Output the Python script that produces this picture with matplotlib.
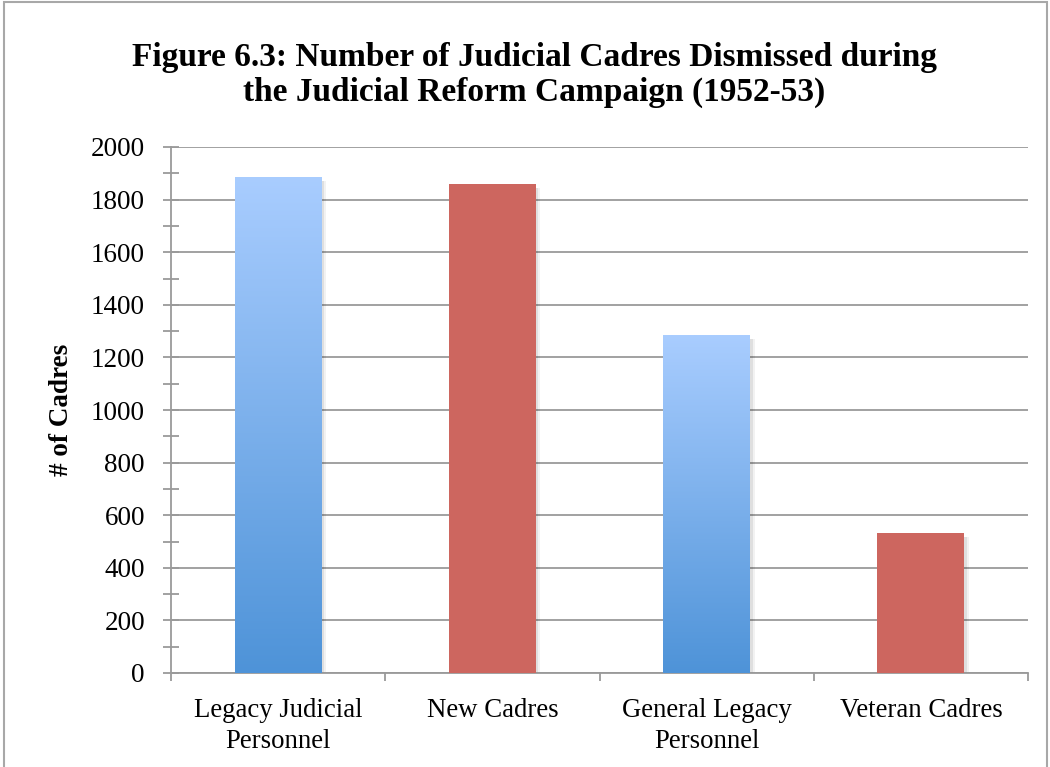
import numpy as np
import matplotlib
matplotlib.use('Agg')
import matplotlib.pyplot as plt
from matplotlib.patches import Rectangle
from matplotlib.colors import LinearSegmentedColormap

categories = ['Legacy Judicial\nPersonnel', 'New Cadres', 'General Legacy\nPersonnel', 'Veteran Cadres']
values = [1886, 1860, 1285, 532]
bar_kinds = ['blue', 'red', 'blue', 'red']

title = 'Figure 6.3: Number of Judicial Cadres Dismissed during\nthe Judicial Reform Campaign (1952-53)'
ylabel = '# of Cadres'

RED = '#cd665f'
blue_cmap = LinearSegmentedColormap.from_list('bluegrad', ['#4e93d8', '#a9cdff'])
GRID = '#9a9a9a'

plt.rcParams['font.family'] = ['Liberation Serif', 'DejaVu Serif']

fig = plt.figure(figsize=(10.5, 7.67), dpi=100)
ax = fig.add_axes([171 / 1050, 1 - 673 / 767, (1028 - 171) / 1050, (673 - 147) / 767])

x = np.arange(len(categories))
width = 0.405

# soft shadow behind bars
for dx, a in [(0.012, 0.08), (0.022, 0.05)]:
    ax.bar(x + dx, np.array(values) - 8, width=width, bottom=-8, color='#000000',
           alpha=a, linewidth=0, zorder=2)

bars = ax.bar(x, values, width=width, color=[RED if k == 'red' else 'none' for k in bar_kinds],
              linewidth=0, zorder=3)

grad = np.linspace(0, 1, 256).reshape(-1, 1)
for b, kind in zip(bars, bar_kinds):
    if kind != 'blue':
        continue
    x0, w, h = b.get_x(), b.get_width(), b.get_height()
    im = ax.imshow(grad, cmap=blue_cmap, aspect='auto', origin='lower',
                   extent=[x0, x0 + w, 0, h], zorder=3, interpolation='bilinear')
    im.set_clip_path(b)

ax.set_xlim(-0.5, len(categories) - 0.5)
ax.set_ylim(0, 2000)

ax.set_yticks(np.arange(0, 2001, 200))
ax.set_yticks(np.arange(100, 2000, 200), minor=True)
ax.yaxis.grid(True, color=GRID, linewidth=1.3, zorder=1)
ax.set_axisbelow(True)

ax.set_xticks(np.arange(-0.5, len(categories), 1.0))
ax.set_xticklabels([])
ax.set_xticks(x, minor=True)
ax.set_xticklabels(categories, minor=True, linespacing=1.3)

ax.tick_params(axis='y', which='major', direction='inout', length=11.5, width=1.3, color=GRID,
               labelsize=19.5, pad=13)
ax.tick_params(axis='y', which='minor', direction='inout', length=11.5, width=1.3, color=GRID)
ax.tick_params(axis='x', which='major', direction='out', length=6, width=1.3, color=GRID)
ax.tick_params(axis='x', which='minor', length=0, labelsize=19.3, pad=18)

for side in ['top', 'right']:
    ax.spines[side].set_visible(False)
for side in ['left', 'bottom']:
    ax.spines[side].set_color(GRID)
    ax.spines[side].set_linewidth(1.3)

ax.set_ylabel(ylabel, fontsize=19.5, fontweight='bold', labelpad=12)

fig.text(534 / 1050, 0.902, title, ha='center', va='center', fontsize=24, fontweight='bold',
         linespacing=1.15)

fig.patches.append(Rectangle((0.004, -0.05), 0.993, 1.048, transform=fig.transFigure,
                             fill=False, edgecolor='#a8a8a8', linewidth=1.5))

fig.savefig('out.png', dpi=100)
